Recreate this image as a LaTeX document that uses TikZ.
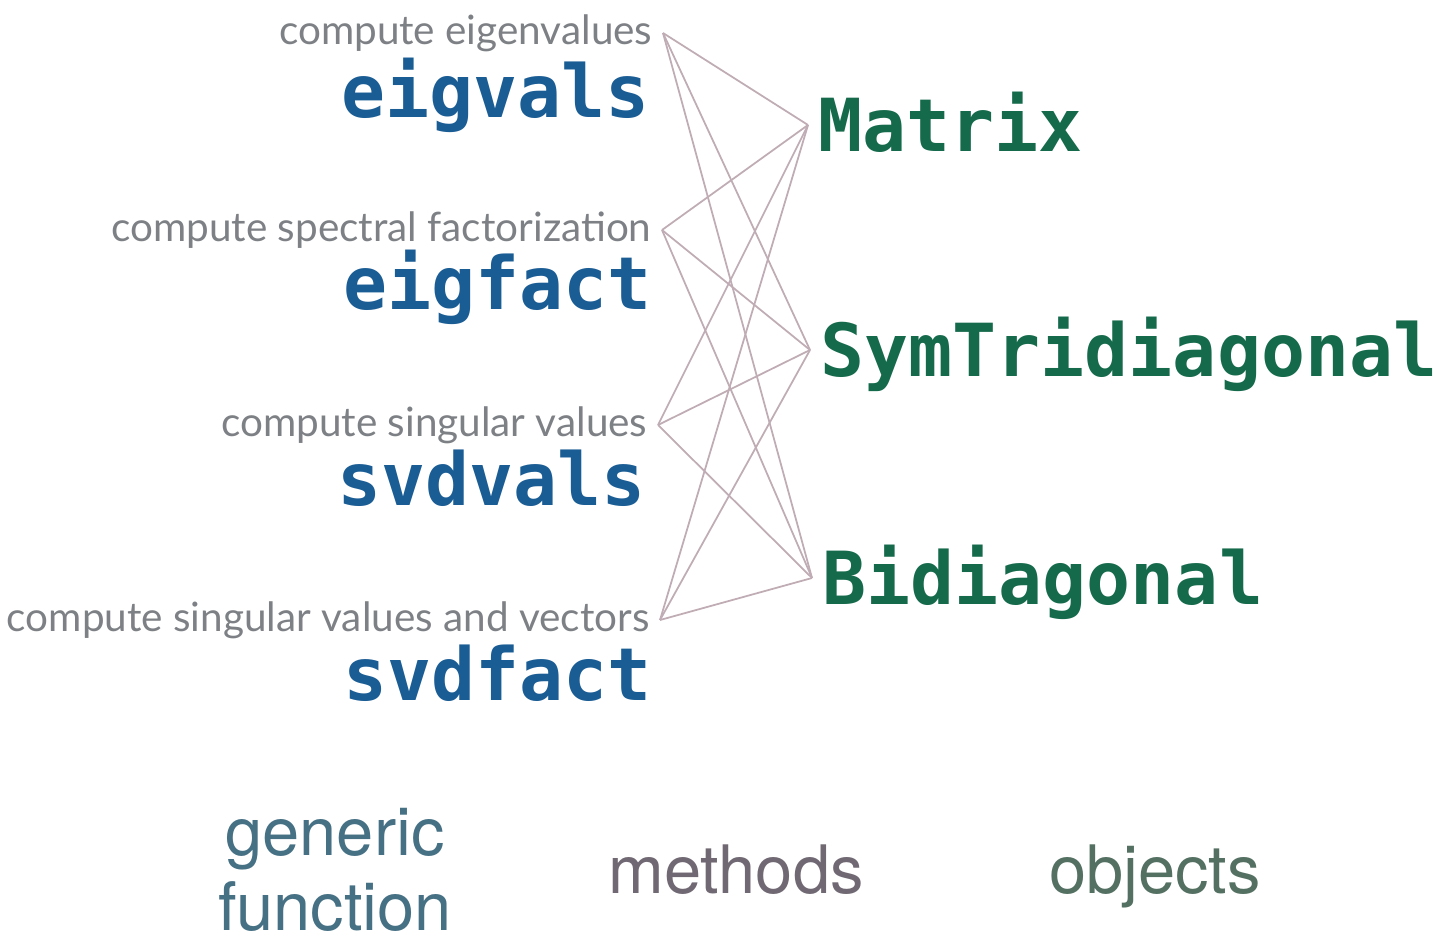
\documentclass[tikz,border=0pt]{standalone}
\usepackage{fontspec}
\usepackage{tikz}
\usetikzlibrary{arrows,arrows.meta}

\newfontfamily\codefont{DejaVu Sans Mono}
\newfontfamily\notefont{Lato}
\newfontfamily\captionfont{TeX Gyre Heros}

\definecolor{fnblue}{RGB}{26,92,148}
\definecolor{objgreen}{RGB}{22,106,76}
\definecolor{notegray}{RGB}{125,128,132}
\definecolor{wiregray}{RGB}{192,172,180}
\definecolor{capblue}{RGB}{70,112,132}
\definecolor{capgray}{RGB}{112,104,114}
\definecolor{capgreen}{RGB}{84,112,98}

\begin{document}
\begin{tikzpicture}[
x=0.01cm, y=-0.01cm,
fn/.style={anchor=base east, inner sep=0pt, text=fnblue, font=\codefont\bfseries\fontsize{20.8}{24}\selectfont},
doc/.style={anchor=east, inner xsep=1mm, inner ysep=0pt, text height=6.8pt, text depth=0pt, text=notegray, font=\notefont\fontsize{11.5}{13}\selectfont},
obj/.style={anchor=west, inner xsep=1mm, inner ysep=0pt, text height=15pt, text depth=0pt, text=objgreen, font=\codefont\bfseries\fontsize{20.8}{24}\selectfont},
caption/.style={anchor=base, inner sep=0pt, align=center, font=\captionfont\fontsize{19}{21.3}\selectfont},
wire/.style={draw=wiregray, line width=0.5pt} ]

\useasboundingbox (0,0) rectangle (1449,940);

\node[doc](eigvalsdoc) at (663,33) {compute eigenvalues};

\node[fn](eigvals) at (650,118) {eigvals};

\node[doc](eigfactdoc) at (662,230) {compute spectral factorization};

\node[fn](eigfact) at (652,310) {eigfact};

\node[doc](svdvalsdoc) at (658,425) {compute singular values};

\node[fn](svdvals) at (646,505) {svdvals};

\node[doc](svdfactdoc) at (660,620) {compute singular values and vectors};

\node[fn](svdfact) at (652,700) {svdfact};

\node[obj](Matrix) at (808,125) {Matrix};

\node[obj](SymTri) at (810,350) {SymTridiagonal};

\node[obj](Bidiag) at (812,578) {Bidiagonal};

\draw[wire] (eigvalsdoc.east) -- (Matrix.west);
\draw[wire] (eigvalsdoc.east) -- (SymTri.west);
\draw[wire] (eigvalsdoc.east) -- (Bidiag.west);

\draw[wire] (eigfactdoc.east) -- (Matrix.west);
\draw[wire] (eigfactdoc.east) -- (SymTri.west);
\draw[wire] (eigfactdoc.east) -- (Bidiag.west);

\draw[wire] (svdvalsdoc.east) -- (Matrix.west);
\draw[wire] (svdvalsdoc.east) -- (SymTri.west);
\draw[wire] (svdvalsdoc.east) -- (Bidiag.west);

\draw[wire] (svdfactdoc.east) -- (Matrix.west);
\draw[wire] (svdfactdoc.east) -- (SymTri.west);
\draw[wire] (svdfactdoc.east) -- (Bidiag.west);

\node[caption, text=capblue](generic) at (335,930) {generic\\function};

\node[caption, text=capgray](methods) at (736,893) {methods};

\node[caption, text=capgreen](objects) at (1155,893) {objects};
\end{tikzpicture}
\end{document}
